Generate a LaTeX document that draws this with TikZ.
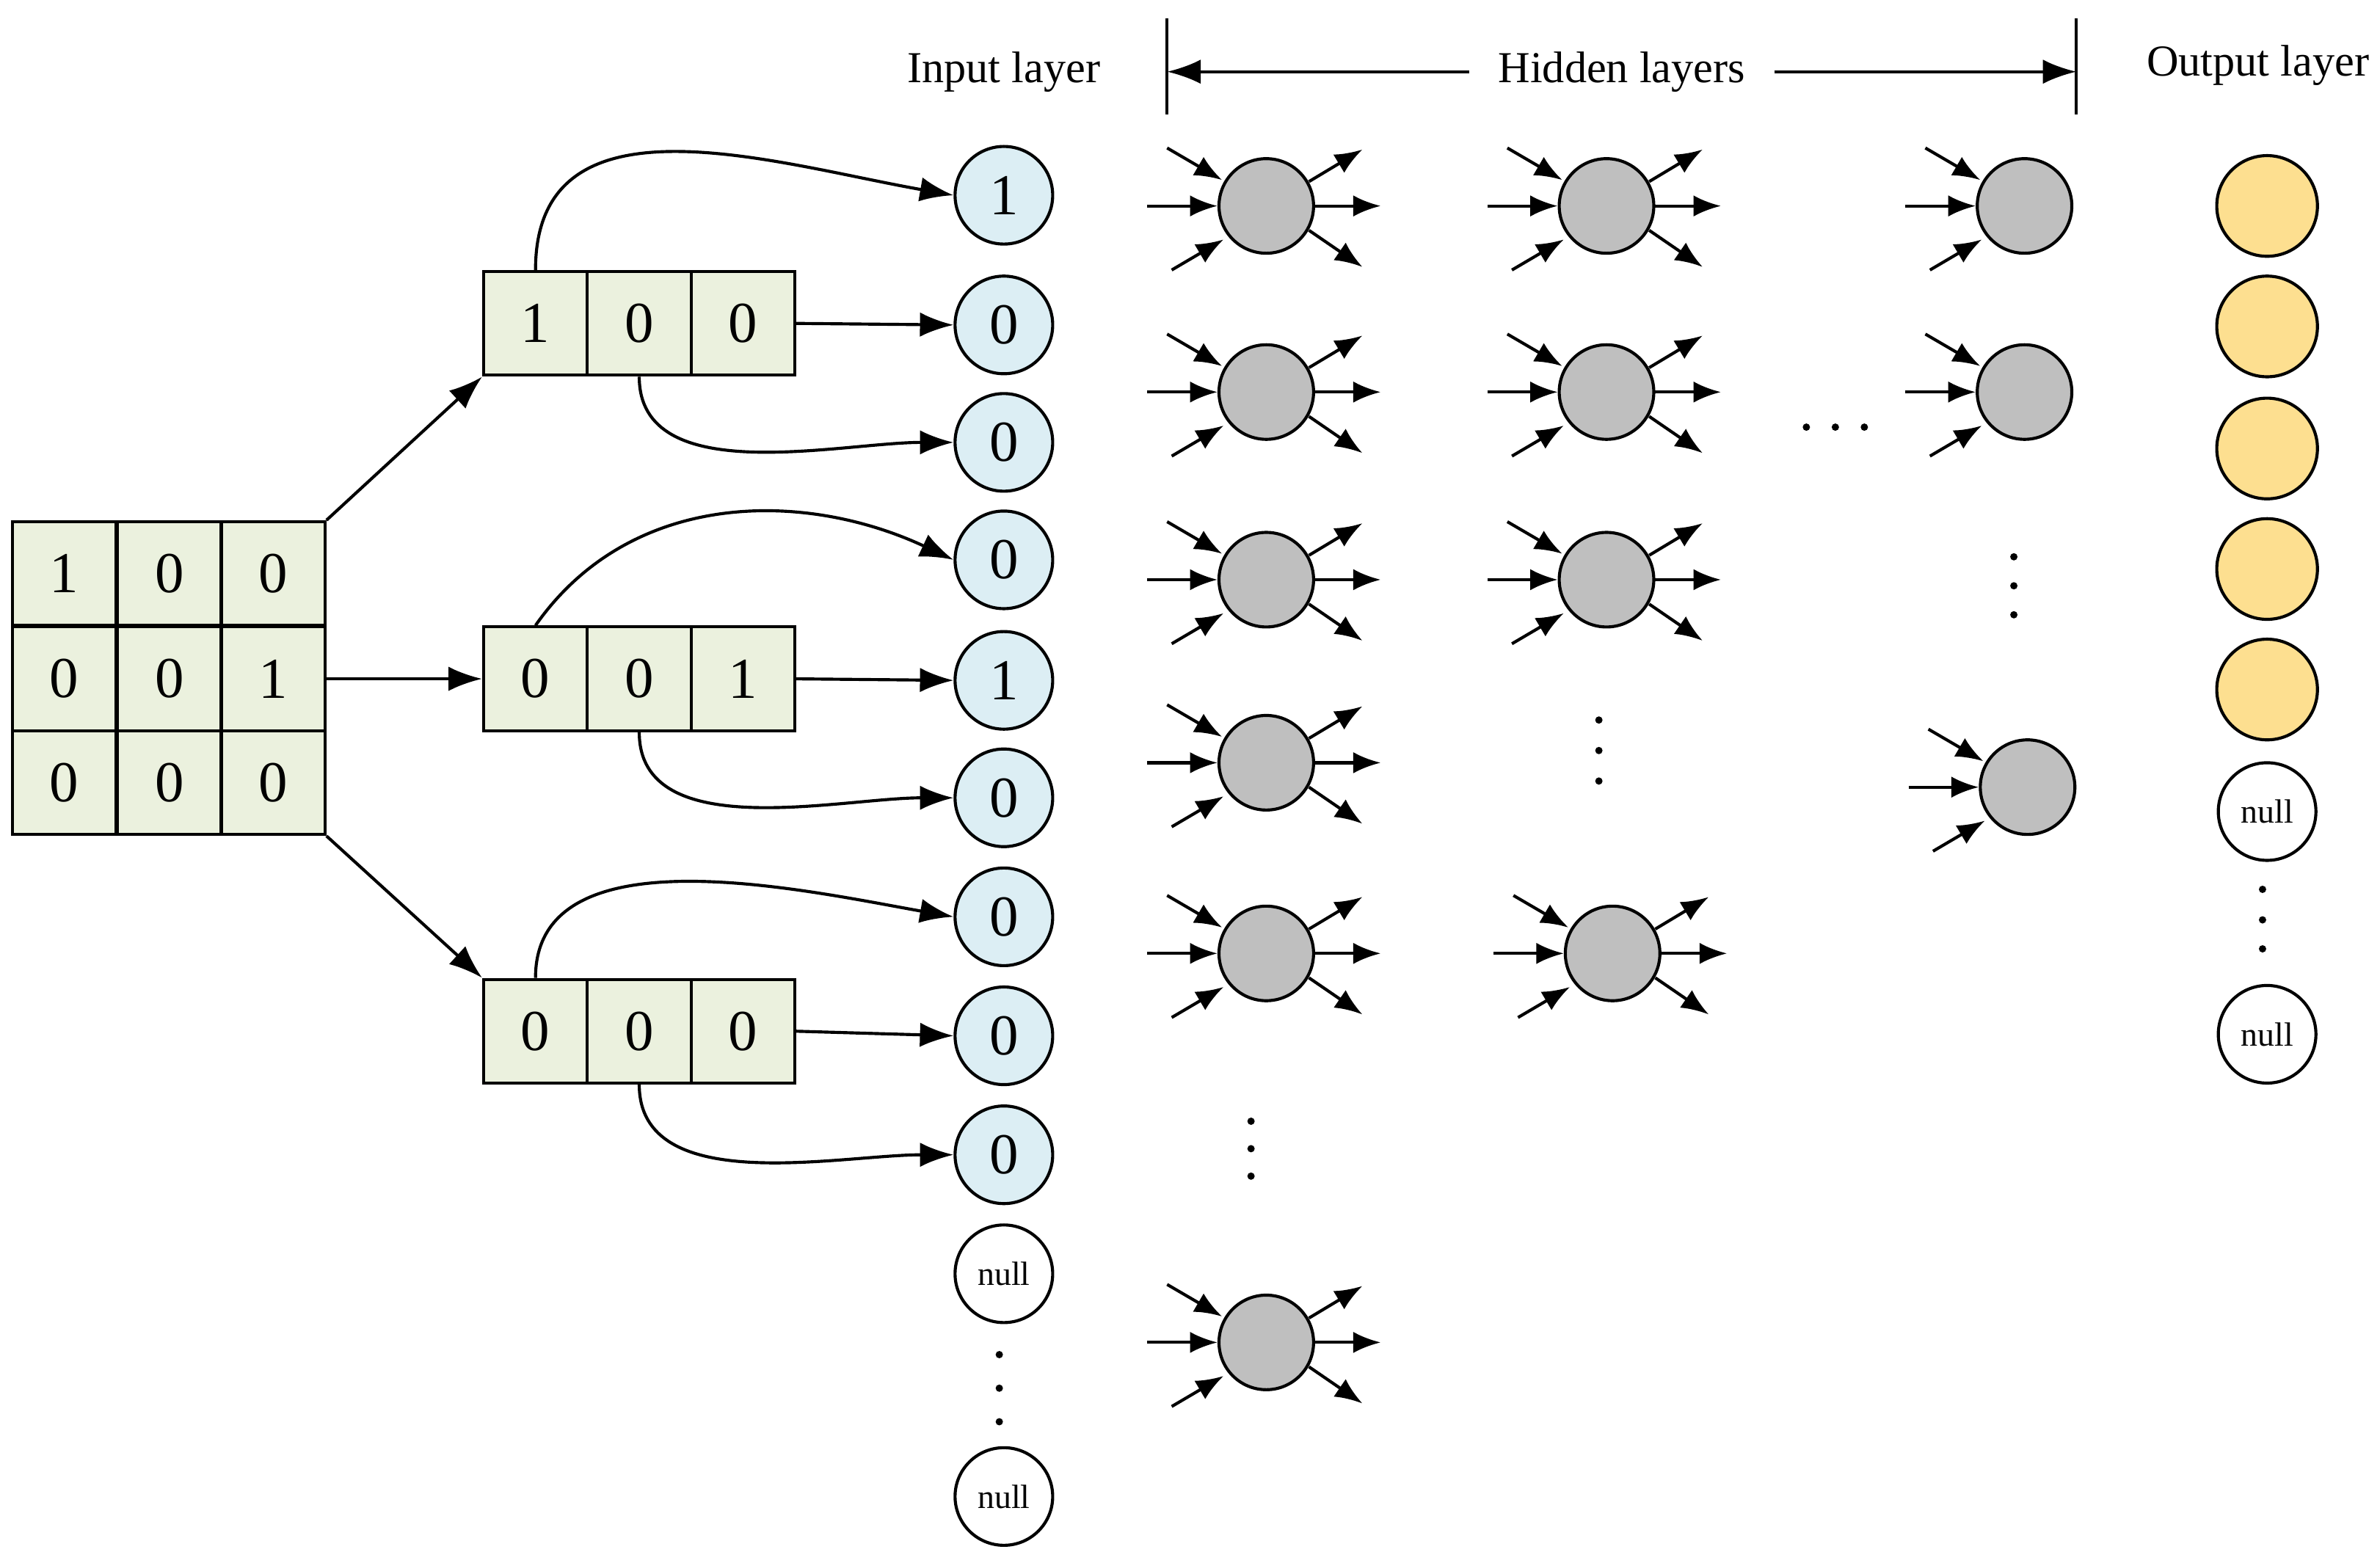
\documentclass[tikz,border=0pt]{standalone}
\usepackage{fontspec}
\setmainfont{Liberation Serif}
\usetikzlibrary{arrows.meta}
\definecolor{cellg}{HTML}{EBF1DE}
\definecolor{inb}{HTML}{DCEEF4}
\definecolor{hg}{HTML}{BFBFBF}
\definecolor{outy}{HTML}{FDDF90}
\begin{document}
\begin{tikzpicture}[x=0.5pt,y=-0.5pt,
  cell/.style={draw,fill=cellg,minimum size=34pt,inner sep=0pt,line width=1pt,font=\fontsize{19}{19}\selectfont},
  inp/.style={draw,circle,fill=inb,minimum size=32pt,inner sep=0pt,line width=1pt,font=\fontsize{19}{19}\selectfont},
  nul/.style={draw,circle,fill=white,minimum size=32pt,inner sep=0pt,line width=1pt,font=\fontsize{11}{11}\selectfont},
  hid/.style={draw,circle,fill=hg,minimum size=31pt,inner sep=0pt,line width=1pt},
  outn/.style={draw,circle,fill=outy,minimum size=33pt,inner sep=0pt,line width=1pt},
  big/.style={-{Latex[length=11pt,width=8pt]},line width=1pt},
  sm/.style={-{Latex[length=9pt,width=7pt]},line width=1pt},
  lab/.style={font=\fontsize{14.5}{14.5}\selectfont},
  dt/.style={circle,fill=black,inner sep=0pt,minimum size=2.4pt}]
\useasboundingbox (0,0) rectangle (1560,1017);
% matrix
\foreach \r/\y in {1/376,2/445,3/513}{
 \foreach \c/\x in {1/42,2/111,3/179}{
  \node[cell] (m\r\c) at (\x,\y) {};}}
\node at (m11) [font=\fontsize{19}{19}\selectfont]{1};\node at (m12)[font=\fontsize{19}{19}\selectfont]{0};\node at (m13)[font=\fontsize{19}{19}\selectfont]{0};
\node at (m21)[font=\fontsize{19}{19}\selectfont]{0};\node at (m22)[font=\fontsize{19}{19}\selectfont]{0};\node at (m23)[font=\fontsize{19}{19}\selectfont]{1};
\node at (m31)[font=\fontsize{19}{19}\selectfont]{0};\node at (m32)[font=\fontsize{19}{19}\selectfont]{0};\node at (m33)[font=\fontsize{19}{19}\selectfont]{0};
% vectors
\node[cell] (a1) at (351,212) {1};\node[cell] (a2) at (419,212) {0};\node[cell] (a3) at (487,212) {0};
\node[cell] (b1) at (351,445) {0};\node[cell] (b2) at (419,445) {0};\node[cell] (b3) at (487,445) {1};
\node[cell] (c1) at (351,676) {0};\node[cell] (c2) at (419,676) {0};\node[cell] (c3) at (487,676) {0};
\draw[big] (m13.north east) -- (a1.south west);
\draw[big] (m23.east) -- (b1.west);
\draw[big] (m33.south east) -- (c1.north west);
% input layer
\foreach \n/\y/\t in {1/128/1,2/213/0,3/290/0,4/367/0,5/446/1,6/523/0,7/601/0,8/679/0,9/757/0}{
  \node[inp] (i\n) at (658,\y) {\t};}
\node[nul] (n1) at (658,835) {null};
\node[nul] (n2) at (658,981) {null};
\foreach \y in {888,910,932}{\node[dt] at (655,\y){};}
\draw[big] (a1.north) to[out=90,in=170,looseness=1.1] (i1.west);
\draw[big] (a3.east) -- (i2.west);
\draw[big] (a2.south) to[out=-90,in=180,looseness=0.9] (i3.west);
\draw[big] (b1.north) to[out=55,in=155] (i4.west);
\draw[big] (b3.east) -- (i5.west);
\draw[big] (b2.south) to[out=-90,in=180,looseness=0.9] (i6.west);
\draw[big] (c1.north) to[out=90,in=170,looseness=0.9] (i7.west);
\draw[big] (c3.east) -- (i8.west);
\draw[big] (c2.south) to[out=-90,in=180,looseness=0.9] (i9.west);
% hidden
\foreach \n/\x/\y/\o in {h1/830/135/1,h2/830/257/1,h3/830/380/1,h4/830/500/1,h5/830/625/1,h6/830/880/1,
  k1/1053/135/1,k2/1053/257/1,k3/1053/380/1,k4/1057/625/1,
  l1/1327/135/0,l2/1327/257/0,l3/1329/516/0}{
  \node[hid] (\n) at (\x,\y) {};
  \draw[sm] ([shift={(-65,-38)}]\n.center) -- ([shift={(-29,-17)}]\n.center);
  \draw[sm] ([shift={(-78,0)}]\n.center) -- ([shift={(-32,0)}]\n.center);
  \draw[sm] ([shift={(-62,42)}]\n.center) -- ([shift={(-28,22)}]\n.center);
  \ifnum\o=1
  \draw[sm] ([shift={(28,-16)}]\n.center) -- ([shift={(63,-37)}]\n.center);
  \draw[sm] ([shift={(31,0)}]\n.center) -- ([shift={(75,0)}]\n.center);
  \draw[sm] ([shift={(28,16)}]\n.center) -- ([shift={(63,40)}]\n.center);
  \fi}
\foreach \y in {735,753,771}{\node[dt] at (820,\y){};}
\foreach \y in {472,492,512}{\node[dt] at (1048,\y){};}
\foreach \y in {365,384,403}{\node[dt] at (1320,\y){};}
\foreach \x in {1184,1203,1222}{\node[dt] at (\x,280){};}
% output
\foreach \n/\y in {1/135,2/214,3/294,4/373,5/452}{\node[outn] (o\n) at (1486,\y) {};}
\node[nul] (p1) at (1486,532) {null};
\node[nul] (p2) at (1486,678) {null};
\foreach \y in {583,603,622}{\node[dt] at (1483,\y){};}
% headers
\node[lab] (t1) at (658,47) {Input layer};
\node[lab] (t2) at (1063,47) {Hidden layers};
\node[lab] (t3) at (1480,43) {Output layer};
\coordinate (bl) at (765,47); \coordinate (br) at (1361,47);
\draw[line width=1pt] (765,12) -- (765,75);
\draw[line width=1pt] (1361,12) -- (1361,75);
\draw[big] (t2.west) ++(-12,0) -- (bl);
\draw[big] (t2.east) ++(12,0) -- (br);
\end{tikzpicture}
\end{document}
